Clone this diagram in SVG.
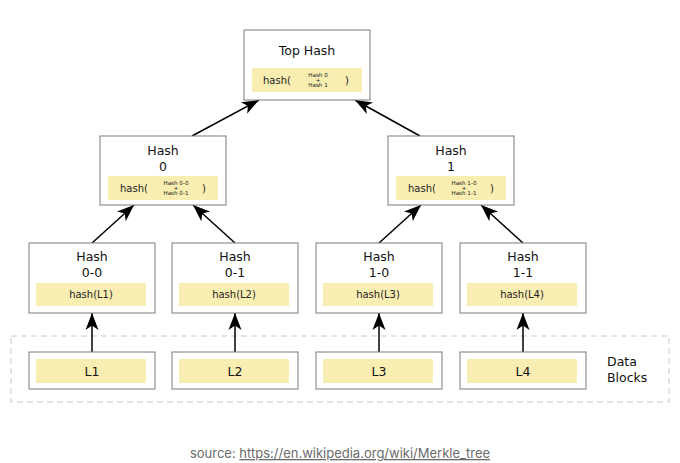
<svg xmlns="http://www.w3.org/2000/svg" width="680" height="463" viewBox="0 0 680 463">
<style>
.box{fill:#fff;stroke:#7a7a7a;stroke-width:1}
.y{fill:#f9eeb2}
.t{font-family:"DejaVu Sans",sans-serif;font-size:12.5px;fill:#111;text-anchor:middle}
.s{font-family:"DejaVu Sans",sans-serif;font-size:10px;fill:#222;text-anchor:middle}
.tiny{font-family:"DejaVu Sans",sans-serif;font-size:5.6px;fill:#222;text-anchor:middle}
.c{stroke:#000;stroke-width:1.5;fill:none;marker-end:url(#ah)}
</style>
<defs>
<marker id="ah" viewBox="-18 -7 20 14" markerWidth="20" markerHeight="14" refX="0" refY="0" orient="auto" markerUnits="userSpaceOnUse">
<path d="M0,0 L-17,-6.5 L-12.5,0 L-17,6.5 Z" fill="#000"/>
</marker>
</defs>
<rect width="680" height="463" fill="#fff"/>
<rect x="11" y="336" width="658" height="66" fill="none" stroke="#c8c8c8" stroke-width="1" stroke-dasharray="6,4"/>
<g id="connectors">
<line class="c" x1="192" y1="136" x2="259" y2="100"/>
<line class="c" x1="420" y1="136" x2="355" y2="100"/>
<line class="c" x1="92" y1="243" x2="134" y2="205"/>
<line class="c" x1="235" y1="243" x2="193" y2="205"/>
<line class="c" x1="379" y1="243" x2="421" y2="205"/>
<line class="c" x1="523" y1="243" x2="481" y2="205"/>
<line class="c" x1="92" y1="352" x2="92" y2="313"/>
<line class="c" x1="235" y1="352" x2="235" y2="313"/>
<line class="c" x1="379" y1="352" x2="379" y2="313"/>
<line class="c" x1="523" y1="352" x2="523" y2="313"/>
</g>
<g id="top">
<rect class="box" x="244" y="30" width="126" height="70"/>
<text class="t" x="307" y="55">Top Hash</text>
<rect class="y" x="252" y="68" width="110" height="24"/>
<text class="s" x="277" y="84">hash(</text>
<text class="tiny" x="318" y="77">Hash 0</text>
<text class="tiny" x="318" y="82">+</text>
<text class="tiny" x="318" y="87">Hash 1</text>
<text class="s" x="347" y="84">)</text>
</g>
<g id="h0">
<rect class="box" x="100" y="136" width="126" height="69"/>
<text class="t" x="163" y="155">Hash</text>
<text class="t" x="163" y="171">0</text>
<rect class="y" x="108" y="176" width="110" height="24"/>
<text class="s" x="134" y="192">hash(</text>
<text class="tiny" x="176" y="185">Hash 0-0</text>
<text class="tiny" x="176" y="190">+</text>
<text class="tiny" x="176" y="195">Hash 0-1</text>
<text class="s" x="204" y="192">)</text>
</g>
<g id="h1">
<rect class="box" x="388" y="136" width="126" height="69"/>
<text class="t" x="451" y="155">Hash</text>
<text class="t" x="451" y="171">1</text>
<rect class="y" x="396" y="176" width="110" height="24"/>
<text class="s" x="422" y="192">hash(</text>
<text class="tiny" x="464" y="185">Hash 1-0</text>
<text class="tiny" x="464" y="190">+</text>
<text class="tiny" x="464" y="195">Hash 1-1</text>
<text class="s" x="492" y="192">)</text>
</g>
<g id="h00">
<rect class="box" x="29" y="243" width="126" height="70"/>
<text class="t" x="92" y="261">Hash</text>
<text class="t" x="92" y="277">0-0</text>
<rect class="y" x="36" y="283" width="110" height="23"/>
<text class="s" x="91" y="298">hash(L1)</text>
</g>
<g id="h01">
<rect class="box" x="172" y="243" width="126" height="70"/>
<text class="t" x="235" y="261">Hash</text>
<text class="t" x="235" y="277">0-1</text>
<rect class="y" x="179" y="283" width="110" height="23"/>
<text class="s" x="234" y="298">hash(L2)</text>
</g>
<g id="h10">
<rect class="box" x="316" y="243" width="126" height="70"/>
<text class="t" x="379" y="261">Hash</text>
<text class="t" x="379" y="277">1-0</text>
<rect class="y" x="323" y="283" width="110" height="23"/>
<text class="s" x="378" y="298">hash(L3)</text>
</g>
<g id="h11">
<rect class="box" x="460" y="243" width="126" height="70"/>
<text class="t" x="523" y="261">Hash</text>
<text class="t" x="523" y="277">1-1</text>
<rect class="y" x="467" y="283" width="110" height="23"/>
<text class="s" x="522" y="298">hash(L4)</text>
</g>
<g id="l1">
<rect class="box" x="29" y="352" width="126" height="37"/>
<rect class="y" x="36" y="359" width="110" height="24"/>
<text class="t" x="92" y="375.5">L1</text>
</g>
<g id="l2">
<rect class="box" x="172" y="352" width="126" height="37"/>
<rect class="y" x="179" y="359" width="110" height="24"/>
<text class="t" x="235" y="375.5">L2</text>
</g>
<g id="l3">
<rect class="box" x="316" y="352" width="126" height="37"/>
<rect class="y" x="323" y="359" width="110" height="24"/>
<text class="t" x="379" y="375.5">L3</text>
</g>
<g id="l4">
<rect class="box" x="460" y="352" width="126" height="37"/>
<rect class="y" x="467" y="359" width="110" height="24"/>
<text class="t" x="523" y="375.5">L4</text>
</g>
<g id="datalabel">
<text class="t" x="607" y="366" style="text-anchor:start">Data</text>
<text class="t" x="607" y="382" style="text-anchor:start">Blocks</text>
</g>
<text x="340" y="458" style="font-family:Inter,'Noto Sans',sans-serif;font-size:13px;fill:#6b6b6b;text-anchor:middle">source: <tspan text-decoration="underline">https://en.wikipedia.org/wiki/Merkle_tree</tspan></text>
</svg>
